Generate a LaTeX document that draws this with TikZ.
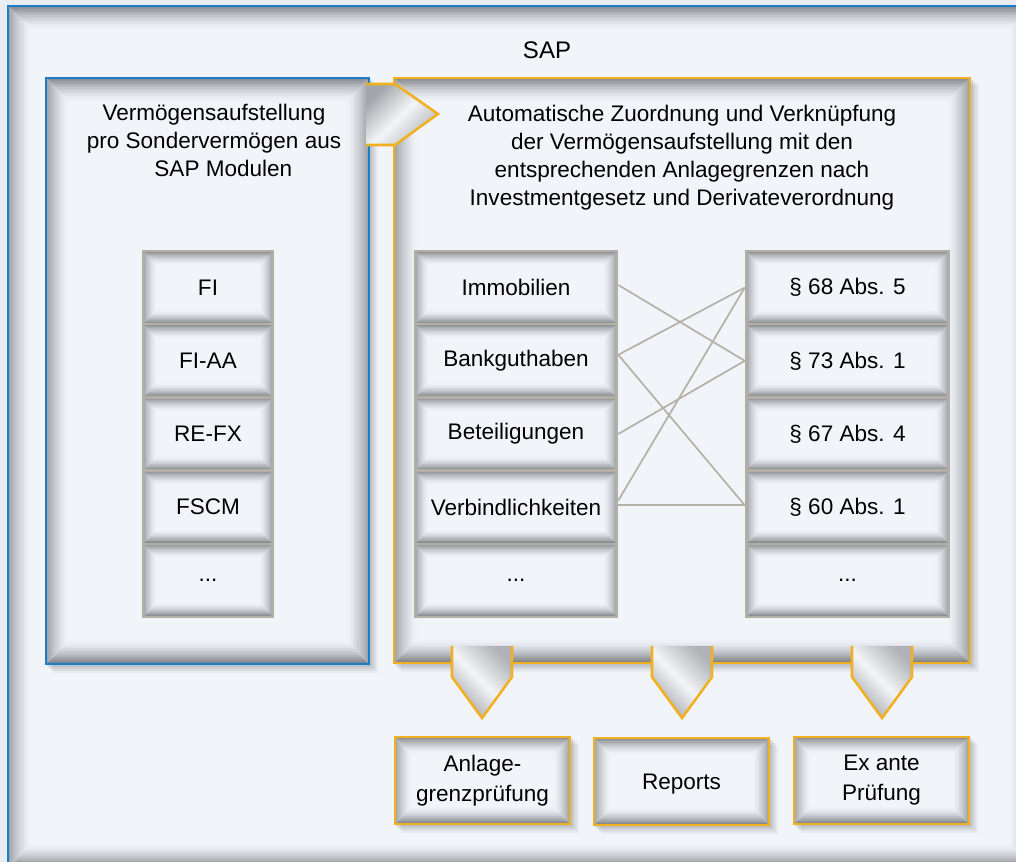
\documentclass[tikz,border=0pt]{standalone}
\usepackage{fontspec}
\setmainfont{Liberation Sans}
\usetikzlibrary{calc}

\definecolor{bgc}{HTML}{F1F5FA}
\definecolor{canvasc}{HTML}{E9EDF2}
\definecolor{sapblue}{HTML}{1B7DC8}
\definecolor{sapyellow}{HTML}{F0B020}
\definecolor{cellline}{HTML}{B4AEA5}
\definecolor{connc}{HTML}{B7B1A8}
\definecolor{shtop}{HTML}{8A8D92}
\definecolor{shbot}{HTML}{82858A}
\definecolor{shside}{HTML}{A0A3A8}
\definecolor{chevdark}{HTML}{A3A6AB}
\definecolor{chevlight}{HTML}{F3F5F8}

\pgfdeclarelayer{canv}
\pgfdeclarelayer{shad}
\pgfsetlayers{canv,shad,main}

\newcommand\bevelpic[1]{%
  \coordinate (bNW) at (path picture bounding box.north west);
  \coordinate (bNE) at (path picture bounding box.north east);
  \coordinate (bSW) at (path picture bounding box.south west);
  \coordinate (bSE) at (path picture bounding box.south east);
  \foreach \k in {0,...,9}{%
    \pgfmathsetmacro\a{#1*\k/10}%
    \pgfmathsetmacro\b{#1*(\k+1)/10+0.4}%
    \pgfmathsetmacro\p{100*(1-\k/10)^1.5}%
    \fill[shtop!\p!bgc] ([shift={(\a pt,-\a pt)}]bNW) -- ([shift={(-\a pt,-\a pt)}]bNE) -- ([shift={(-\b pt,-\b pt)}]bNE) -- ([shift={(\b pt,-\b pt)}]bNW) -- cycle;
    \fill[shbot!\p!bgc] ([shift={(\a pt,\a pt)}]bSW) -- ([shift={(-\a pt,\a pt)}]bSE) -- ([shift={(-\b pt,\b pt)}]bSE) -- ([shift={(\b pt,\b pt)}]bSW) -- cycle;
    \fill[shside!\p!bgc] ([shift={(\a pt,-\a pt)}]bNW) -- ([shift={(\a pt,\a pt)}]bSW) -- ([shift={(\b pt,\b pt)}]bSW) -- ([shift={(\b pt,-\b pt)}]bNW) -- cycle;
    \fill[shside!\p!bgc] ([shift={(-\a pt,-\a pt)}]bNE) -- ([shift={(-\a pt,\a pt)}]bSE) -- ([shift={(-\b pt,\b pt)}]bSE) -- ([shift={(-\b pt,-\b pt)}]bNE) -- cycle;
  }%
}

\newcommand\softshadow[1]{%
  \begin{pgfonlayer}{shad}
  \foreach \o/\op in {1.5/0.07,3/0.06,4.5/0.05,6/0.04}{%
    \fill[black,opacity=\op] ([shift={(\o pt,-\o pt)}]#1.south west) rectangle ([shift={(\o pt,-\o pt)}]#1.north east);
  }%
  \end{pgfonlayer}%
}

\tikzset{
  bevel/.style={path picture={\bevelpic{#1}}},
  txt/.style={font=\fontsize{16.9}{21}\selectfont, align=center, inner sep=0pt, text=black},
  cell/.style={draw=cellline, line width=1.9pt, fill=bgc, bevel=10, minimum height=54.9pt, inner sep=0pt, txt},
  lcell/.style={cell, minimum width=97.5pt},
  mcell/.style={cell, minimum width=151.5pt},
  rcell/.style={cell, minimum width=152.25pt},
  bigbox/.style={fill=bgc, bevel=17, inner sep=0pt},
  resbox/.style={draw=sapyellow, line width=1.9pt, fill=bgc, bevel=12, minimum width=131.25pt, minimum height=65.25pt, inner sep=0pt, txt, font=\fontsize{16.9}{22.5}\selectfont},
  chevfill/.style={left color=chevdark, right color=chevdark!85, middle color=chevlight, shading angle=135},
  chevline/.style={draw=sapyellow, line width=1.9pt, line join=miter},
  conn/.style={draw=connc, line width=1.3pt},
}

\begin{document}
\begin{tikzpicture}[x=0.75pt,y=-0.75pt]
\useasboundingbox (0,0) rectangle (1016,862);
\clip (0,0) rectangle (1016,862);
\begin{pgfonlayer}{canv}
\fill[canvasc] (0,0) rectangle (1016,862);
% outer frame
\node[draw=sapblue, line width=2.2pt, fill=bgc, bevel=17, minimum width=768pt, minimum height=646.5pt, inner sep=0pt] (frame) at (520,437) {};
\end{pgfonlayer}
\node[txt, font=\fontsize{18}{22}\selectfont] (sap) at (547,50) {SAP};

% big boxes
\node[bigbox, draw=sapblue, line width=2.2pt, minimum width=242.25pt, minimum height=439.5pt] (lbox) at (207.5,371) {};
\node[bigbox, draw=sapyellow, line width=1.9pt, minimum width=432pt, minimum height=438.75pt] (ybox) at (682,370.5) {};
\softshadow{lbox}
\softshadow{ybox}

% left chevron
\shade[chevfill, shading angle=45] (366,84) -- (395,84) -- (438,114) -- (395,145) -- (366,145) -- cycle;
\draw[chevline] (366,84) -- (395,84) -- (438,114) -- (395,145) -- (366,145);

% header texts
\node[txt] (ltxt) at (214,140) {Vermögensaufstellung\\pro Sondervermögen aus\\\hspace*{14pt}SAP Modulen};
\node[txt] (rtxt) at (682,158) {Automatische Zuordnung und Verknüpfung\\der Vermögensaufstellung mit den\\entsprechenden Anlagegrenzen nach\\Investmentgesetz und Derivateverordnung};

% left column
\node[lcell] (fi)   at (208,287.6) {FI};
\node[lcell] (fiaa) at (208,360.8) {FI-AA};
\node[lcell] (refx) at (208,434.0) {RE-FX};
\node[lcell] (fscm) at (208,507.2) {FSCM};
\node[lcell] (ldot) at (208,580.4) {...};

% middle column
\node[mcell] (imm)  at (516,287.6) {Immobilien};
\node[mcell] (bank) at (516,360.8) {Bankguthaben};
\node[mcell] (bet)  at (516,434.0) {Beteiligungen};
\node[mcell] (verb) at (516,507.2) {Verbindlichkeiten};
\node[mcell] (mdot) at (516,580.4) {...};

% right column
\node[rcell] (p68) at (847.5,287.6) {§ 68 Abs. 5};
\node[rcell] (p73) at (847.5,360.8) {§ 73 Abs. 1};
\node[rcell] (p67) at (847.5,434.0) {§ 67 Abs. 4};
\node[rcell] (p60) at (847.5,507.2) {§ 60 Abs. 1};
\node[rcell] (rdot) at (847.5,580.4) {...};

% connectors
\draw[conn] ([yshift=2pt]imm.east) -- (p73.west);
\draw[conn] ([yshift=4.5pt]bank.east) -- (p68.west);
\draw[conn] ([yshift=4.5pt]bank.east) -- ([yshift=1.5pt]p60.west);
\draw[conn] (bet.east) -- (p73.west);
\draw[conn] ([yshift=5pt]verb.east) -- (p68.west);
\draw[conn] ([yshift=1.5pt]verb.east) -- ([yshift=1.5pt]p60.west);

% bottom chevrons
\foreach \cx in {482, 682, 882}{
  \shade[chevfill] (\cx-30,646) -- (\cx-30,677) -- (\cx,718) -- (\cx+30,677) -- (\cx+30,646) -- cycle;
  \draw[chevline] (\cx-30,646) -- (\cx-30,677) -- (\cx,718) -- (\cx+30,677) -- (\cx+30,646);
}

% result boxes
\node[resbox] (agp) at (482.5,780.5) {Anlage-\\grenzprüfung};
\node[resbox, text depth=0pt] (rep) at (681.5,781.5) {Reports};
\node[resbox] (exa) at (881.5,780.5) {Ex ante\\Prüfung};
\softshadow{agp}
\softshadow{rep}
\softshadow{exa}
\end{tikzpicture}
\end{document}
